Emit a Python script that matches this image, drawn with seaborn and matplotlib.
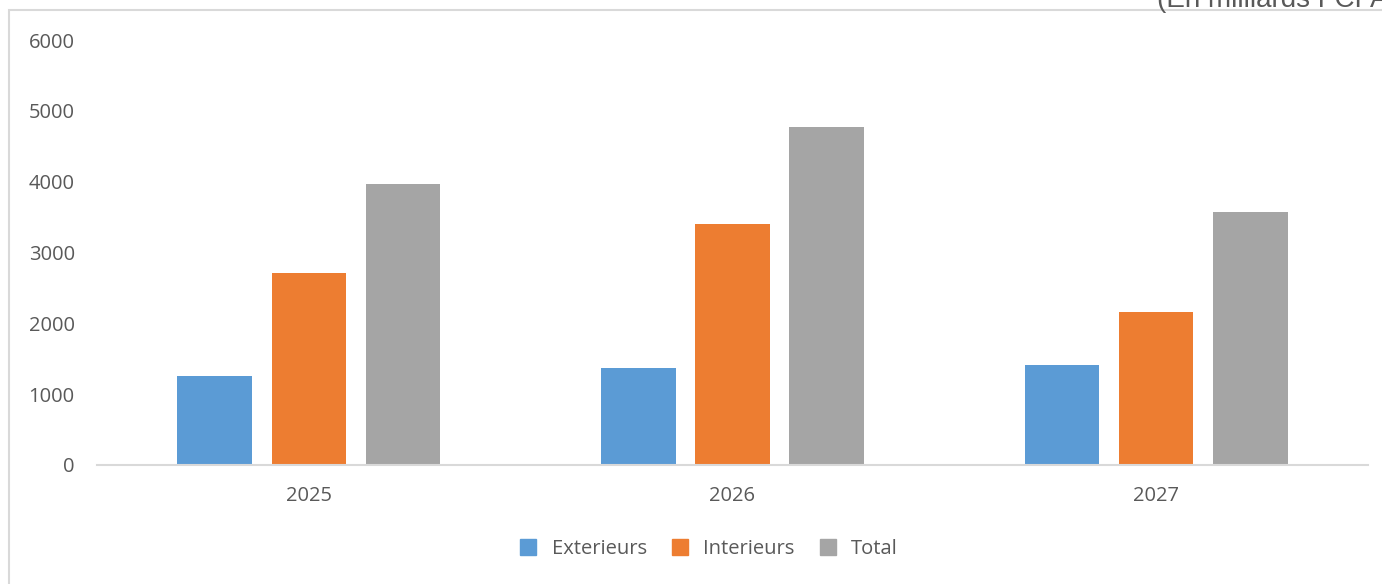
import matplotlib
matplotlib.use("Agg")
import matplotlib.pyplot as plt
import seaborn as sns
import pandas as pd
from matplotlib.patches import Rectangle
from matplotlib.lines import Line2D

years = ["2025", "2026", "2027"]
series = ["Exterieurs", "Interieurs", "Total"]
exterieurs = [1257, 1370, 1412]
interieurs = [2712, 3404, 2161]
total = [3969, 4774, 3573]
colors = ["#5B9BD5", "#ED7D31", "#A5A5A5"]
yticks = [0, 1000, 2000, 3000, 4000, 5000, 6000]
title = "(En milliards FCFA)"

rows = []
for name, vals in zip(series, [exterieurs, interieurs, total]):
    for y, v in zip(years, vals):
        rows.append({"year": y, "series": name, "value": v})
df = pd.DataFrame(rows)

sns.set_theme(style="white")
plt.rcParams["font.family"] = ["Open Sans", "DejaVu Sans"]
TXT = "#595959"
FS = 14.5

fig = plt.figure(figsize=(13.82, 5.84), dpi=100)
W, H = 1382, 584
ax = fig.add_axes([97 / W, (H - 465) / H, (1368 - 97) / W, (465 - 40) / H])

sns.barplot(data=df, x="year", y="value", hue="series", palette=colors,
            width=0.667, gap=0.21, ax=ax, legend=False, saturation=1,
            edgecolor="none")

ax.set_ylim(0, 6000)
ax.set_xlim(-0.5, 2.5)
ax.set_yticks(yticks)
ax.set_yticklabels([str(t) for t in yticks])
ax.set_xlabel("")
ax.set_ylabel("")
for s in ["top", "right", "left"]:
    ax.spines[s].set_visible(False)
ax.spines["bottom"].set_color("#D9D9D9")
ax.spines["bottom"].set_linewidth(1.5)
ax.tick_params(axis="both", length=0, labelsize=FS, colors=TXT)
ax.tick_params(axis="y", pad=16)
ax.tick_params(axis="x", pad=15)
ax.grid(False)

# outer chart frame
fig.patches.append(Rectangle((9 / W, -0.05), 1.1, (H - 10) / H + 0.05,
                             transform=fig.transFigure, fill=False,
                             edgecolor="#D9D9D9", linewidth=1.5))

fig.text(1157 / W, (H - 7) / H, title, ha="left", va="baseline",
         fontsize=20, color=TXT, family=["Liberation Sans", "DejaVu Sans"])

handles = [Line2D([0], [0], marker="s", linestyle="none", markersize=11.5,
                  markerfacecolor=c, markeredgecolor=c) for c in colors]
fig.legend(handles, series, loc="center", bbox_to_anchor=(708 / W, (H - 549) / H),
           ncol=3, frameon=False, fontsize=FS, labelcolor=TXT,
           handlelength=1.0, handletextpad=0.65, columnspacing=1.15)

fig.savefig("out.png", dpi=100)
